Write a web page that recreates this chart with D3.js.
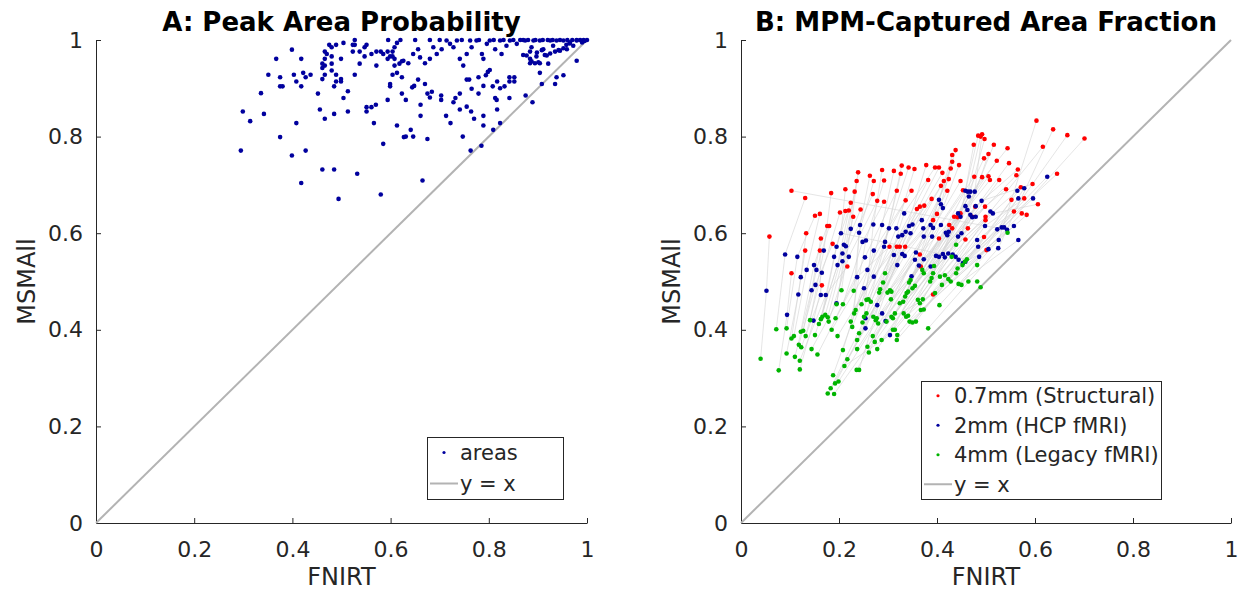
<!DOCTYPE html>
<html>
<head>
<meta charset="utf-8">
<script src="https://cdn.jsdelivr.net/npm/d3@7"></script>
<style>
  body { margin: 0; background: #fff; }
  text { font-family: "DejaVu Sans", sans-serif; fill: #262626; }
</style>
</head>
<body>
<svg id="chart" width="1239" height="592"></svg>
<script>
// tick values / labels shared by both panels
const tickValues = [0, 0.2, 0.4, 0.6, 0.8, 1];
const tickLabels = ["0", "0.2", "0.4", "0.6", "0.8", "1"];

// panel A: [FNIRT, MSMAll] peak area probability per area
const peakProb = [
  [0.295,0.771],[0.299,0.852],[0.314,0.832],[0.336,0.890],[0.342,0.847],[0.351,0.928],[0.367,0.961],[0.375,0.923],
  [0.375,0.904],[0.380,0.904],[0.375,0.799],[0.399,0.980],[0.399,0.761],[0.403,0.928],[0.408,0.914],[0.408,0.828],
  [0.418,0.961],[0.418,0.904],[0.418,0.704],[0.422,0.932],[0.427,0.923],[0.427,0.771],[0.437,0.928],[0.452,0.889],
  [0.456,0.856],[0.461,0.732],[0.466,0.837],[0.461,0.919],[0.466,0.928],[0.461,0.942],[0.466,0.947],[0.461,0.951],
  [0.466,0.961],[0.470,0.971],[0.466,0.976],[0.475,0.990],[0.480,0.985],[0.489,0.990],[0.480,0.966],[0.480,0.951],
  [0.480,0.937],[0.485,0.904],[0.485,0.847],[0.489,0.928],[0.489,0.914],[0.485,0.732],[0.494,0.671],[0.499,0.919],
  [0.499,0.914],[0.499,0.961],[0.504,0.994],[0.504,0.880],[0.513,0.894],[0.513,0.852],[0.523,0.990],[0.527,0.990],
  [0.527,1.000],[0.523,0.976],[0.537,0.976],[0.527,0.928],[0.532,0.723],[0.537,0.951],[0.547,0.985],[0.551,0.990],
  [0.547,0.966],[0.551,0.861],[0.561,0.861],[0.551,0.852],[0.561,0.971],[0.566,0.828],[0.571,0.976],[0.571,0.947],
  [0.570,0.866],[0.580,0.680],[0.585,0.785],[0.580,0.976],[0.585,0.971],[0.595,1.000],[0.594,0.976],[0.604,0.976],
  [0.594,0.961],[0.599,0.966],[0.604,0.966],[0.608,0.961],[0.594,0.876],[0.599,0.909],[0.599,0.904],[0.604,0.928],
  [0.608,0.985],[0.613,0.994],[0.608,0.947],[0.613,0.932],[0.618,0.951],[0.623,0.956],[0.613,0.823],[0.623,0.923],
  [0.623,0.889],[0.627,0.799],[0.631,0.876],[0.631,0.800],[0.641,0.814],[0.646,0.800],[0.644,0.902],[0.648,0.905],
  [0.656,0.918],[0.661,0.866],[0.661,0.843],[0.670,0.909],[0.675,0.889],[0.680,0.881],[0.684,0.893],[0.675,0.795],
  [0.703,0.885],[0.703,0.876],[0.713,0.843],[0.722,0.828],[0.728,0.871],[0.732,0.880],[0.741,0.889],[0.741,0.856],
  [0.747,0.800],[0.755,0.918],[0.760,0.918],[0.755,0.862],[0.765,0.899],[0.764,0.852],[0.770,0.837],[0.779,0.889],
  [0.779,0.923],[0.789,0.905],[0.789,0.843],[0.789,0.823],[0.794,0.927],[0.802,0.938],[0.798,0.934],[0.808,0.904],
  [0.813,0.880],[0.816,0.876],[0.817,0.914],[0.823,0.900],[0.817,0.856],[0.823,0.828],[0.809,0.814],[0.832,0.904],
  [0.842,0.880],[0.842,0.923],[0.852,0.923],[0.842,0.914],[0.852,0.914],[0.875,0.885],[0.889,0.871],[0.908,0.909],
  [0.921,0.951],[0.938,0.923],[0.952,0.927],[0.979,0.957],[0.763,0.771],[0.785,0.781],[0.665,0.709],
  [0.626,0.957],[0.636,0.952],[0.646,0.971],[0.656,0.981],[0.660,0.964],[0.670,0.952],[0.680,0.961],[0.687,0.985],
  [0.694,0.971],[0.704,0.981],[0.714,0.999],[0.721,0.992],[0.728,0.985],[0.735,0.999],[0.741,0.961],[0.748,0.947],
  [0.755,0.971],[0.762,0.999],[0.765,0.985],[0.775,0.999],[0.786,0.971],[0.789,0.961],[0.796,0.992],[0.802,0.999],
  [0.813,0.981],[0.823,0.999],[0.826,0.971],[0.836,0.988],[0.843,0.999],[0.857,0.992],[0.864,1.000],[0.874,0.999],
  [0.877,0.968],[0.884,0.961],[0.887,0.985],[0.891,0.999],[0.898,0.974],[0.901,0.954],[0.904,0.999],[0.911,0.981],
  [0.918,0.968],[0.925,0.999],[0.931,0.988],[0.938,0.999],[0.945,0.978],[0.952,0.999],[0.959,0.981],[0.965,0.995],
  [0.972,0.988],[0.979,0.999],[0.986,1.000],[0.870,0.969],[0.884,0.976],[0.887,0.956],[0.897,0.966],[0.908,0.979],
  [0.914,0.969],[0.925,0.972],[0.935,0.976],[0.942,0.979],[0.952,0.983],[0.958,0.990],[0.965,0.993],[0.979,1.000],
  [0.993,1.000],[0.884,0.952],[0.894,0.952],[0.904,0.952],[0.904,0.932],[0.935,0.909],
  [0.620,1.000],[0.650,1.000],[0.680,1.000],[0.700,1.000],[0.745,1.000],[0.780,1.000],[0.810,1.000],[0.830,1.000],
  [0.850,1.000],[0.870,1.000],[0.880,1.000],[0.895,1.000],[0.910,1.000],[0.920,1.000],[0.930,1.000],[0.945,1.000],
  [0.960,1.000],[0.970,1.000],[0.990,0.995],[1.000,1.000],[0.995,0.998]
];

// panel B: MPM-captured area fraction, one array per resolution
const mpm07 = [
  [0.058,0.593],[0.103,0.688],[0.103,0.517],[0.131,0.673],[0.133,0.600],[0.131,0.564],[0.151,0.636],[0.161,0.640],
  [0.163,0.589],[0.161,0.564],[0.165,0.492],[0.176,0.615],[0.180,0.615],[0.184,0.683],[0.187,0.578],[0.202,0.643],
  [0.213,0.646],[0.220,0.647],[0.213,0.691],[0.224,0.663],[0.229,0.634],[0.217,0.531],[0.232,0.686],[0.239,0.726],
  [0.236,0.708],[0.244,0.649],[0.263,0.719],[0.269,0.681],[0.271,0.708],[0.278,0.667],[0.292,0.665],[0.288,0.731],
  [0.292,0.709],[0.303,0.572],[0.312,0.729],[0.318,0.688],[0.318,0.572],[0.326,0.723],[0.328,0.740],[0.324,0.572],
  [0.335,0.572],[0.336,0.668],[0.342,0.736],[0.348,0.688],[0.354,0.733],[0.359,0.650],[0.365,0.655],[0.365,0.556],
  [0.367,0.531],[0.374,0.657],[0.378,0.741],[0.382,0.710],[0.389,0.671],[0.392,0.627],[0.396,0.736],[0.400,0.640],
  [0.404,0.736],[0.404,0.589],[0.392,0.473],[0.408,0.698],[0.411,0.725],[0.414,0.708],[0.421,0.688],[0.424,0.712],
  [0.425,0.617],[0.428,0.734],[0.431,0.748],[0.431,0.762],[0.438,0.772],[0.431,0.610],[0.435,0.634],[0.442,0.633],
  [0.445,0.741],[0.448,0.708],[0.448,0.641],[0.453,0.689],[0.458,0.587],[0.463,0.610],[0.472,0.634],[0.475,0.783],
  [0.476,0.717],[0.478,0.655],[0.484,0.802],[0.489,0.800],[0.492,0.805],[0.497,0.795],[0.496,0.755],[0.498,0.655],
  [0.492,0.716],[0.505,0.718],[0.505,0.764],[0.499,0.634],[0.499,0.627],[0.501,0.565],[0.496,0.592],[0.508,0.710],
  [0.516,0.783],[0.522,0.750],[0.527,0.710],[0.541,0.691],[0.544,0.776],[0.547,0.745],[0.552,0.669],[0.557,0.645],
  [0.562,0.720],[0.565,0.732],[0.571,0.695],[0.573,0.641],[0.583,0.638],[0.578,0.672],[0.595,0.702],[0.603,0.833],
  [0.606,0.660],[0.616,0.779],[0.637,0.815],[0.645,0.723],[0.666,0.803],[0.701,0.796]
];
const mpm2 = [
  [0.052,0.481],[0.090,0.556],[0.094,0.431],[0.115,0.551],[0.117,0.473],[0.122,0.509],[0.134,0.524],[0.144,0.482],
  [0.149,0.534],[0.152,0.493],[0.154,0.524],[0.165,0.518],[0.148,0.419],[0.163,0.472],[0.173,0.472],[0.169,0.564],
  [0.190,0.551],[0.195,0.572],[0.197,0.534],[0.195,0.455],[0.204,0.600],[0.207,0.558],[0.210,0.576],[0.214,0.573],
  [0.207,0.542],[0.220,0.551],[0.224,0.609],[0.237,0.509],[0.241,0.601],[0.243,0.617],[0.248,0.582],[0.255,0.585],
  [0.251,0.486],[0.253,0.550],[0.254,0.403],[0.254,0.424],[0.258,0.524],[0.270,0.618],[0.271,0.564],[0.271,0.510],
  [0.278,0.451],[0.288,0.617],[0.292,0.572],[0.294,0.582],[0.288,0.434],[0.295,0.418],[0.302,0.610],[0.304,0.389],
  [0.312,0.555],[0.319,0.534],[0.317,0.610],[0.321,0.593],[0.329,0.596],[0.336,0.603],[0.333,0.641],[0.329,0.557],
  [0.334,0.553],[0.343,0.615],[0.350,0.618],[0.346,0.600],[0.348,0.511],[0.355,0.545],[0.357,0.560],[0.363,0.533],
  [0.369,0.627],[0.372,0.610],[0.373,0.546],[0.373,0.593],[0.387,0.617],[0.392,0.611],[0.387,0.531],[0.390,0.593],
  [0.398,0.553],[0.404,0.551],[0.404,0.669],[0.408,0.660],[0.412,0.652],[0.408,0.617],[0.412,0.557],[0.416,0.550],
  [0.418,0.601],[0.421,0.596],[0.424,0.603],[0.423,0.558],[0.432,0.556],[0.438,0.551],[0.444,0.545],[0.443,0.641],
  [0.448,0.634],[0.443,0.593],[0.450,0.600],[0.453,0.538],[0.458,0.541],[0.458,0.688],[0.463,0.686],[0.468,0.686],
  [0.477,0.686],[0.458,0.656],[0.462,0.648],[0.465,0.676],[0.468,0.638],[0.472,0.633],[0.479,0.634],[0.479,0.656],
  [0.482,0.586],[0.484,0.572],[0.486,0.551],[0.491,0.667],[0.498,0.615],[0.505,0.567],[0.509,0.645],[0.514,0.641],
  [0.523,0.608],[0.526,0.586],[0.525,0.569],[0.532,0.612],[0.537,0.612],[0.543,0.607],[0.557,0.615],[0.564,0.688],
  [0.566,0.672],[0.566,0.586],[0.578,0.693],[0.596,0.672],[0.625,0.717]
];
const mpm4 = [
  [0.040,0.340],[0.072,0.401],[0.077,0.316],[0.093,0.403],[0.093,0.351],[0.103,0.382],[0.108,0.387],[0.110,0.344],
  [0.118,0.369],[0.123,0.364],[0.122,0.396],[0.127,0.398],[0.120,0.336],[0.120,0.318],[0.132,0.387],[0.141,0.420],
  [0.144,0.360],[0.151,0.389],[0.156,0.349],[0.163,0.422],[0.166,0.427],[0.172,0.431],[0.177,0.426],[0.179,0.417],
  [0.159,0.412],[0.177,0.268],[0.183,0.279],[0.188,0.306],[0.192,0.289],[0.199,0.293],[0.190,0.267],[0.195,0.453],
  [0.193,0.424],[0.185,0.400],[0.197,0.387],[0.205,0.482],[0.208,0.358],[0.208,0.453],[0.211,0.325],[0.217,0.339],
  [0.224,0.417],[0.227,0.406],[0.230,0.481],[0.231,0.434],[0.234,0.441],[0.236,0.317],[0.241,0.317],[0.237,0.379],
  [0.241,0.393],[0.237,0.360],[0.248,0.415],[0.251,0.427],[0.256,0.434],[0.246,0.453],[0.256,0.462],[0.260,0.463],
  [0.265,0.458],[0.258,0.365],[0.261,0.353],[0.270,0.427],[0.275,0.420],[0.277,0.424],[0.280,0.413],[0.269,0.387],
  [0.273,0.375],[0.278,0.360],[0.282,0.477],[0.284,0.484],[0.287,0.379],[0.290,0.498],[0.294,0.517],[0.299,0.477],
  [0.304,0.482],[0.307,0.479],[0.297,0.417],[0.307,0.427],[0.310,0.424],[0.314,0.434],[0.310,0.400],[0.314,0.400],
  [0.319,0.389],[0.306,0.463],[0.318,0.379],[0.324,0.455],[0.331,0.458],[0.335,0.469],[0.338,0.476],[0.341,0.479],
  [0.332,0.434],[0.337,0.427],[0.341,0.429],[0.343,0.498],[0.346,0.503],[0.344,0.417],[0.350,0.415],[0.357,0.417],
  [0.350,0.486],[0.355,0.491],[0.361,0.462],[0.365,0.455],[0.371,0.463],[0.367,0.441],[0.373,0.442],[0.370,0.524],
  [0.373,0.517],[0.382,0.403],[0.386,0.500],[0.389,0.507],[0.392,0.517],[0.394,0.532],[0.396,0.476],[0.405,0.451],
  [0.406,0.510],[0.410,0.493],[0.416,0.513],[0.423,0.505],[0.428,0.500],[0.439,0.576],[0.439,0.517],[0.442,0.527],
  [0.444,0.495],[0.450,0.493],[0.452,0.534],[0.457,0.541],[0.461,0.546],[0.464,0.500],[0.482,0.534],[0.482,0.500],
  [0.489,0.488],[0.544,0.601],[0.430,0.551]
];

const legendA = ["areas", "y = x"];
const legendB = ["0.7mm (Structural)", "2mm (HCP fMRI)", "4mm (Legacy fMRI)", "y = x"];

const colRed = "#ff0000", colBlue = "#00009e", colGreen = "#00b400", colDiag = "#b3b3b3";

const svg = d3.select("#chart");
const plotTop = 40, plotBottom = 523;

function drawPanel(left, right, title) {
  let x = d3.scaleLinear().domain([0, 1]).range([left, right]);
  let y = d3.scaleLinear().domain([0, 1]).range([plotBottom, plotTop]);
  let g = svg.append("g");

  g.append("g")
    .attr("transform", `translate(0,${plotBottom})`)
    .call(d3.axisBottom(x).tickValues(tickValues).tickFormat((d, i) => tickLabels[i])
      .tickSizeInner(-5).tickSizeOuter(0).tickPadding(18))
    .call(a => a.selectAll("text").style("font-size", "22px"));
  g.append("g")
    .attr("transform", `translate(${left},0)`)
    .call(d3.axisLeft(y).tickValues(tickValues).tickFormat((d, i) => tickLabels[i])
      .tickSizeInner(-5).tickSizeOuter(0).tickPadding(13))
    .call(a => a.selectAll("text").style("font-size", "22px"));
  g.selectAll(".domain, .tick line").attr("stroke", "#262626");

  g.append("text")
    .attr("x", (left + right) / 2).attr("y", 31)
    .attr("text-anchor", "middle")
    .style("font-size", "26px").style("font-weight", "bold").style("fill", "#000")
    .text(title);
  g.append("text")
    .attr("x", (left + right) / 2).attr("y", 585)
    .attr("text-anchor", "middle")
    .style("font-size", "24px")
    .text("FNIRT");
  g.append("text")
    .attr("transform", `translate(${left - 61},${(plotTop + plotBottom) / 2}) rotate(-90)`)
    .attr("text-anchor", "middle")
    .style("font-size", "24px")
    .text("MSMAll");
  return { x, y, g };
}

function diagonal(p) {
  p.g.append("line")
    .attr("x1", p.x(0)).attr("y1", p.y(0))
    .attr("x2", p.x(1)).attr("y2", p.y(1))
    .attr("stroke", colDiag).attr("stroke-width", 2);
}

function dots(p, data, color) {
  p.g.append("g")
    .selectAll("circle")
    .data(data)
    .enter()
    .append("circle")
    .attr("cx", d => p.x(d[0]))
    .attr("cy", d => p.y(d[1]))
    .attr("r", 2.3)
    .attr("fill", color);
}

// pair each point with the closest unused point of the next resolution above it
function linkPoints(from, to, ox, oy) {
  let used = new Set();
  let links = [];
  from.forEach(p => {
    let best = -1, bd = Infinity;
    to.forEach((q, i) => {
      if (used.has(i) || q[1] <= p[1]) return;
      let d = (q[0] - p[0] - ox) ** 2 + (q[1] - p[1] - oy) ** 2;
      if (d < bd) { bd = d; best = i; }
    });
    if (best >= 0) { used.add(best); links.push([p, to[best]]); }
  });
  return links;
}

function legend(p, x0, y0, w, h, rows, colors) {
  let lg = p.g.append("g");
  lg.append("rect")
    .attr("x", x0 + 0.5).attr("y", y0 + 0.5).attr("width", w).attr("height", h)
    .attr("fill", "#fff").attr("stroke", "#262626").attr("stroke-width", 1);
  let step = h / rows.length;
  rows.forEach((r, i) => {
    let cy = y0 + step * (i + 0.5);
    if (colors[i]) {
      lg.append("circle").attr("cx", x0 + 17).attr("cy", cy).attr("r", 1.6).attr("fill", colors[i]);
    } else {
      lg.append("line").attr("x1", x0 + 3).attr("x2", x0 + 31).attr("y1", cy).attr("y2", cy)
        .attr("stroke", colDiag).attr("stroke-width", 2);
    }
    lg.append("text").attr("x", x0 + 33).attr("y", cy).attr("dy", "0.35em")
      .style("font-size", "21px").text(r);
  });
}

// panel A
let pA = drawPanel(96, 587, "A: Peak Area Probability");
diagonal(pA);
dots(pA, peakProb, colBlue);
legend(pA, 427, 437, 136, 62, legendA, [colBlue, null]);

// panel B
let pB = drawPanel(741, 1231, "B: MPM-Captured Area Fraction");
let links = linkPoints(mpm4, mpm2, 0.02, 0.13).concat(linkPoints(mpm2, mpm07, 0.015, 0.1));
pB.g.append("g")
  .selectAll("line")
  .data(links)
  .enter()
  .append("line")
  .attr("x1", d => pB.x(d[0][0])).attr("y1", d => pB.y(d[0][1]))
  .attr("x2", d => pB.x(d[1][0])).attr("y2", d => pB.y(d[1][1]))
  .attr("stroke", "#d4d4d4").attr("stroke-width", 0.6);
diagonal(pB);
dots(pB, mpm07, colRed);
dots(pB, mpm2, colBlue);
dots(pB, mpm4, colGreen);
legend(pB, 921, 381, 240, 118, legendB, [colRed, colBlue, colGreen, null]);
</script>
</body>
</html>
